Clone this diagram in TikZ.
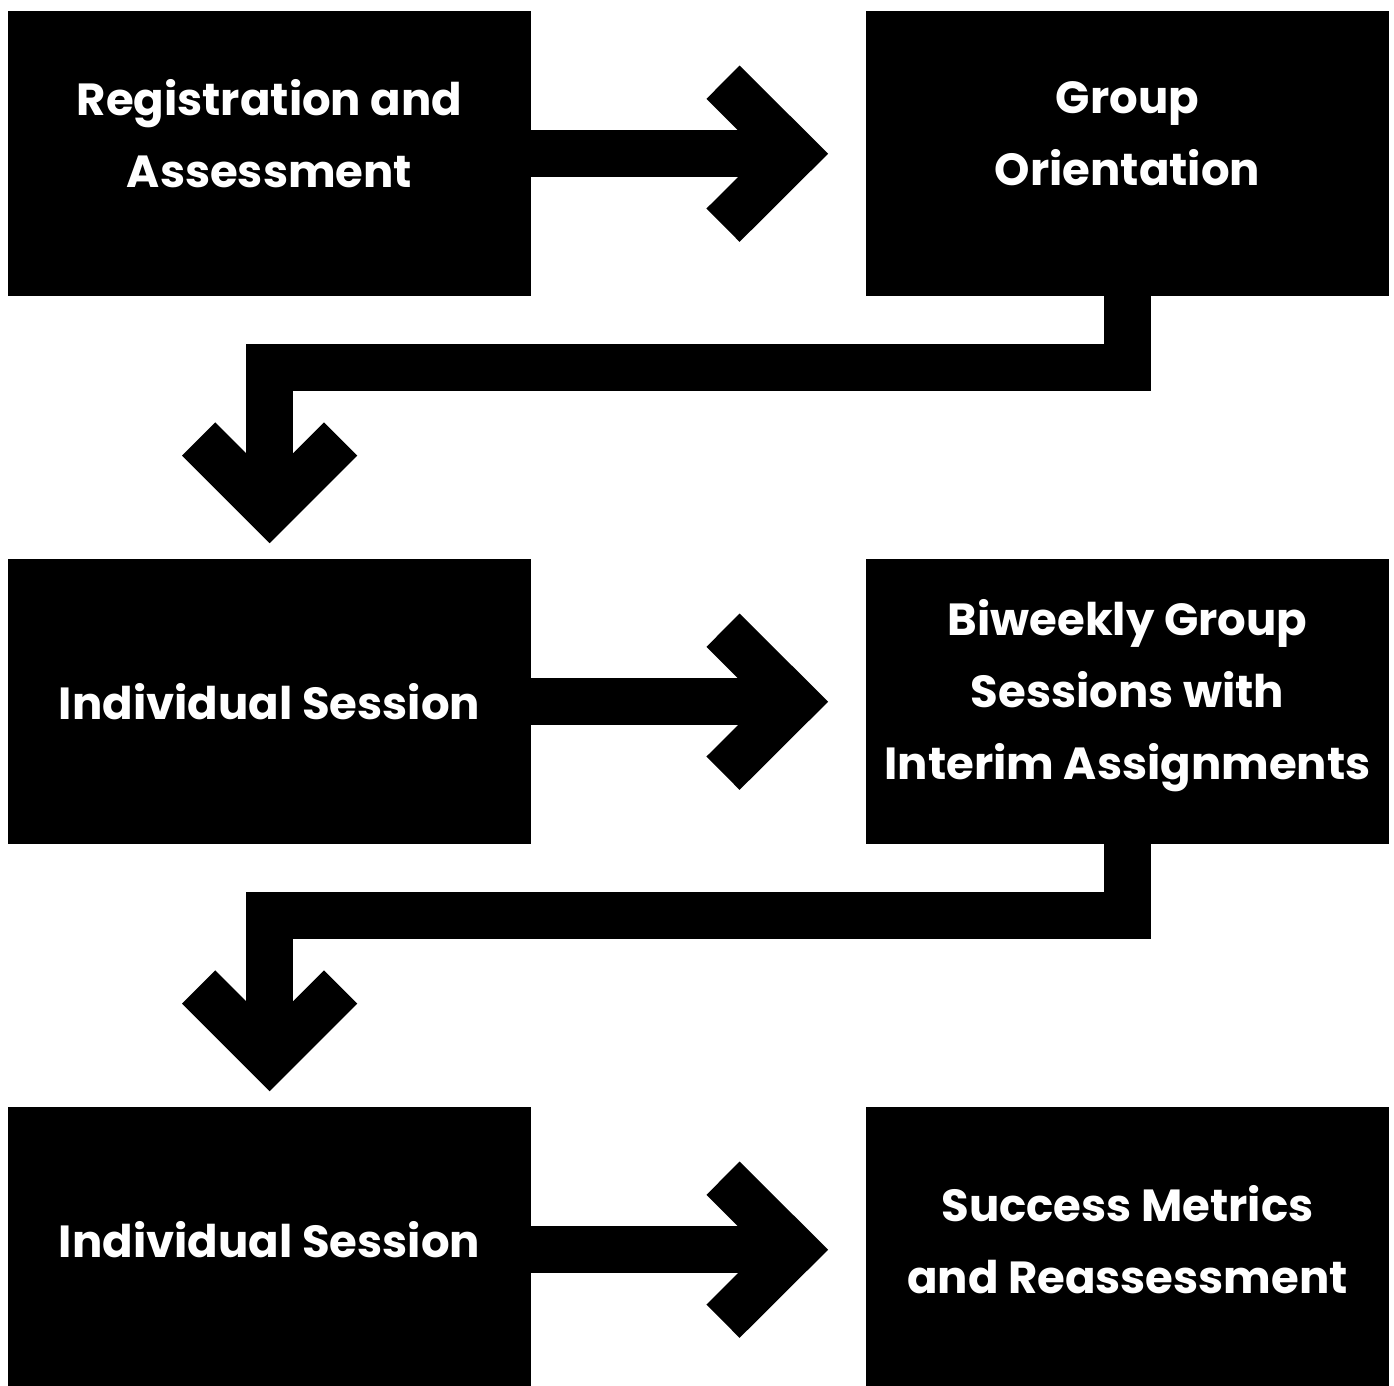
\documentclass[tikz,border=0pt]{standalone}
\usepackage{fontspec}
\setmainfont{Poppins}
\usetikzlibrary{calc}
\begin{document}
\begin{tikzpicture}[x=1pt,y=-1pt,
 box/.style={fill=black, minimum width=523pt, minimum height=285pt, inner sep=0pt, anchor=north west},
 lbl/.style={text=white, align=center, inner sep=0pt, font=\fontsize{45}{72}\selectfont\bfseries},
 conn/.style={line width=47pt, line join=miter, line cap=butt, draw=black}]
\useasboundingbox[fill=white] (0,0) rectangle (1394,1385);
\node[box] (b1) at (8,11) {};
\node[box] (b2) at (866,11) {};
\node[box] (b3) at (8,559) {};
\node[box] (b4) at (866,559) {};
\node[box] (b5) at (8,1107) {};
\node[box] (b6) at (866,1107) {};
\node[lbl] (t1) at (269.5,134) {Registration and\\Assessment};
\node[lbl] (t2) at (1127.5,134) {Group\\Orientation};
\node[lbl] (t3) at (269.5,702) {Individual Session};
\node[lbl] (t4) at (1127.5,696) {Biweekly Group\\Sessions with\\Interim Assignments};
\node[lbl] (t5) at (269.5,1240) {Individual Session};
\node[lbl] (t6) at (1127.5,1240) {Success Metrics\\and Reassessment};
% right arrows
\foreach \a/\b in {b1/b2,b3/b4,b5/b6}{
  \draw[conn] (\a.east) -- ($(\b.west)+(-80,0)$);
  \draw[conn] ($(\b.west)+(-143,-71.5)$) -- ($(\b.west)+(-71.2,0)$) -- ($(\b.west)+(-143,71.5)$);
}
% elbow down arrows
\foreach \a/\b in {b2/b3,b4/b5}{
  \draw[conn] (\a.south) -- ++(0,71.5) -| ($(\b.north)+(0,-60)$);
  \draw[conn] ($(\b.north)+(-71,-120)$) -- ($(\b.north)+(0,-49)$) -- ($(\b.north)+(71,-120)$);
}
\end{tikzpicture}
\end{document}
